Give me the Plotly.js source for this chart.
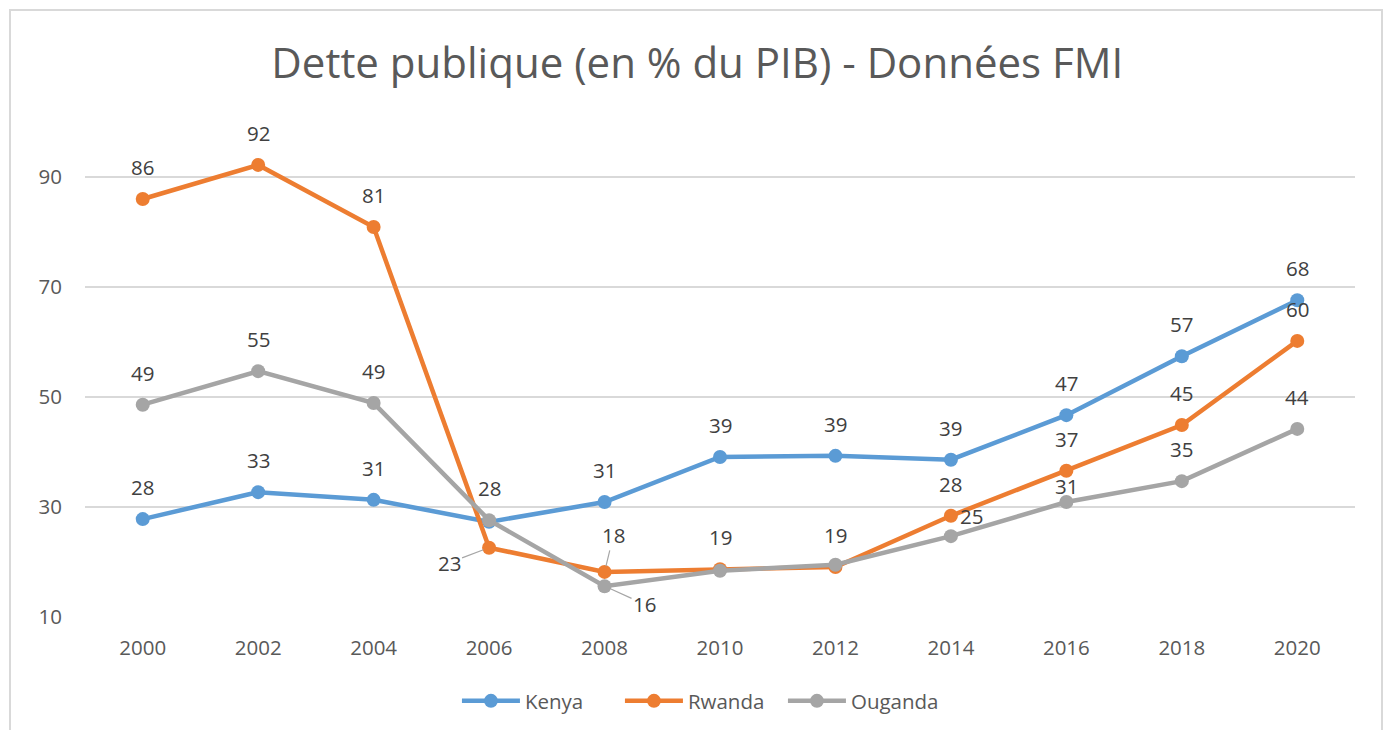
<!DOCTYPE html>
<html>
<head>
<meta charset="utf-8">
<script src="https://cdn.plot.ly/plotly-3.0.1.min.js"></script>
<style>
  html, body { margin: 0; padding: 0; background: #ffffff; }
  #chart { width: 1389px; height: 730px; }
  #frame { position: absolute; left: 9px; top: 9px; width: 1374px; height: 740px;
           border: 2px solid #d9d9d9; pointer-events: none; box-sizing: border-box; }
</style>
</head>
<body>
<div id="chart"></div>
<div id="frame"></div>
<script>
// ---- data ----
const years = ['2000','2002','2004','2006','2008','2010','2012','2014','2016','2018','2020'];
const kenya   = [27.8, 32.7, 31.3, 27.3, 30.9, 39.1, 39.3, 38.6, 46.7, 57.4, 67.6];
const rwanda  = [86.0, 92.2, 80.9, 22.6, 18.2, 18.7, 19.1, 28.4, 36.6, 44.9, 60.2];
const ouganda = [48.6, 54.7, 48.9, 27.6, 15.6, 18.4, 19.5, 24.7, 30.9, 34.7, 44.2];
const seriesNames = ['Kenya', 'Rwanda', 'Ouganda'];
const yTicks = [10, 30, 50, 70, 90];

// ---- styling ----
const colors = ['#5B9BD5', '#ED7D31', '#A5A5A5'];
const FONT = 'Open Sans, Noto Sans, sans-serif';
const series = [kenya, rwanda, ouganda];

const traces = series.map((vals, i) => ({
  type: 'scatter', mode: 'lines+markers', name: seriesNames[i],
  x: years, y: vals,
  line: { color: colors[i], width: 4.5 },
  marker: { color: colors[i], size: 14 },
  hoverinfo: 'x+y+name'
}));

// label placement per series per point: null = hidden, else [dx, dy] in px (default above)
const UP = [0, -32];
const place = [
  [UP, UP, UP, null, UP, UP, UP, UP, UP, UP, UP],                  // Kenya
  [UP, UP, UP, 'L', 'V', UP, UP, UP, UP, UP, UP],                  // Rwanda
  [UP, UP, UP, UP, 'D', null, null, [21, -20], [0, -16], UP, UP]   // Ouganda
];

const annotations = [];
series.forEach((vals, s) => {
  vals.forEach((v, k) => {
    const p = place[s][k];
    if (p === null) return;
    const base = { x: k, y: v, xref: 'x', yref: 'y', text: String(Math.round(v)),
      font: { family: FONT, size: 20.5, color: '#404040' } };
    if (p === 'L') {
      annotations.push(Object.assign(base, { showarrow: true, ax: -40, ay: 15,
        arrowhead: 0, arrowwidth: 1.2, arrowcolor: '#A6A6A6', standoff: 6 }));
    } else if (p === 'V') {
      annotations.push(Object.assign(base, { showarrow: true, ax: 9, ay: -37,
        arrowhead: 0, arrowwidth: 1.2, arrowcolor: '#A6A6A6', standoff: 6 }));
    } else if (p === 'D') {
      annotations.push(Object.assign(base, { showarrow: true, ax: 40, ay: 18,
        arrowhead: 0, arrowwidth: 1.2, arrowcolor: '#A6A6A6', standoff: 7 }));
    } else {
      annotations.push(Object.assign(base, { showarrow: false, xshift: p[0], yshift: -p[1] }));
    }
  });
});

const layout = {
  width: 1389, height: 730,
  margin: { l: 85, r: 34, t: 122, b: 113 },
  paper_bgcolor: '#ffffff', plot_bgcolor: '#ffffff',
  font: { family: FONT, color: '#595959' },
  title: { text: 'Dette publique (en % du PIB) - Données FMI',
    font: { family: FONT, size: 42, color: '#595959' },
    x: 0.502, xref: 'container', y: 1 - 63/730, yref: 'container', yanchor: 'middle' },
  xaxis: {
    type: 'category', categoryorder: 'array', categoryarray: years,
    range: [-0.5, years.length - 0.5],
    showgrid: false, showline: false, zeroline: false, ticks: '',
    tickfont: { family: FONT, size: 20.5, color: '#595959' },
    ticklabelstandoff: 16, fixedrange: true
  },
  yaxis: {
    range: [10, 100], tickvals: yTicks, ticktext: yTicks.map(String),
    showgrid: true, gridcolor: '#D9D9D9', gridwidth: 1.5,
    showline: false, zeroline: false, ticks: '',
    tickfont: { family: FONT, size: 20.5, color: '#595959' },
    ticklabelstandoff: 22, fixedrange: true
  },
  showlegend: true,
  legend: { orientation: 'h', x: 0.505, xref: 'container', xanchor: 'center',
    y: 1 - 701/730, yref: 'container', yanchor: 'middle',
    font: { family: FONT, size: 20.5, color: '#595959' }, itemwidth: 58,
    entrywidth: 90, entrywidthmode: 'pixels', traceorder: 'normal' },
  annotations: annotations
};

Plotly.newPlot('chart', traces, layout, { displayModeBar: false, staticPlot: true });
</script>
</body>
</html>
